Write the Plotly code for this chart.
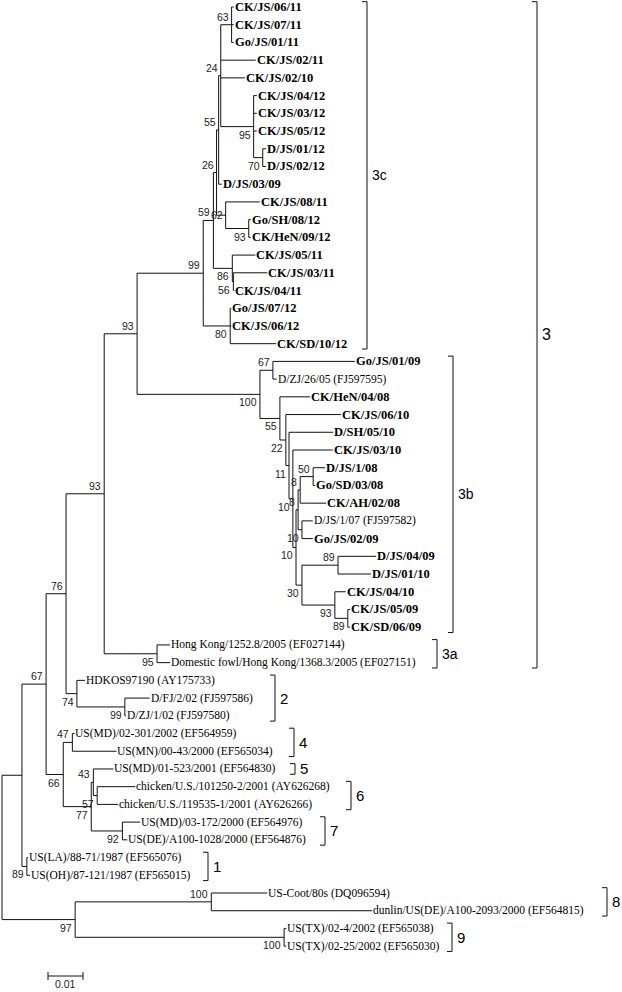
import plotly.graph_objects as go

# ---------------- DATA: tree (Newick; branch lengths = substitutions/site, internal labels = bootstrap) -------------
c63 = "('CK/JS/06/11':0.0006,'CK/JS/07/11':0.0006,'Go/JS/01/11':0.0006)63"
c70 = "('D/JS/01/12':0.0009,'D/JS/02/12':0.0009)70"
c95 = f"('CK/JS/04/12':0.0009,'CK/JS/03/12':0.0009,'CK/JS/05/12':0.0009,{c70}:0.0026)95"
c24 = f"({c63}:0.0031,'CK/JS/02/11':0.0100,'CK/JS/02/10':0.0069,{c95}:0.0094)24"
c55 = f"({c24}:0.0006,'D/JS/03/09':0.0009)55"
c93 = "('Go/SH/08/12':0.0006,'CK/HeN/09/12':0.0006)93"
c62 = f"('CK/JS/08/11':0.0097,{c93}:0.0066)62"
c26 = f"({c55}:0.0006,{c62}:0.0026)26"
c56 = "('CK/JS/03/11':0.0097,'CK/JS/04/11':0.0003)56"
c86 = f"('CK/JS/05/11':0.0066,{c56}:0.0003)86"
c59 = f"({c26}:0.0009,{c86}:0.0054)59"
c80 = "('Go/JS/07/12':0.0003,'CK/JS/06/12':0.0003,'CK/SD/10/12':0.0131)80"
c3c = f"({c59}:0.0029,{c80}:0.0077)99"

c50 = "('D/JS/1/08':0.0034,'Go/SD/03/08':0.0006)50"
c8a = f"({c50}:0.0037,'CK/AH/02/08':0.0074)8"
c10x = "('D/JS/1/07 (FJ597582)':0.0031,'Go/JS/02/09':0.0031)10"
c8b = f"({c8a}:0.0006,{c10x}:0.0011)8"
c89a = "('D/JS/04/09':0.0109,'D/JS/01/10':0.0094)89"
c89b = "('CK/JS/05/09':0.0006,'CK/SD/06/09':0.0006)89"
c93b = f"('CK/JS/04/10':0.0031,{c89b}:0.0037)93"
c30 = f"({c89a}:0.0103,{c93b}:0.0094)30"
c10c = f"({c8b}:0.0006,{c30}:0.0017)10"
c10d = f"('CK/JS/03/10':0.0114,{c10c}:0.0009)10"
c11 = f"('D/SH/05/10':0.0126,{c10d}:0.0011)11"
c22 = f"('CK/JS/06/10':0.0157,{c11}:0.0009)22"
c55b = f"('CK/HeN/04/08':0.0086,{c22}:0.0017)55"
c67b = "('Go/JS/01/09':0.0234,'D/ZJ/26/05 (FJ597595)':0.0011)67"
c3b = f"({c67b}:0.0037,{c55b}:0.0057)100"

cA = f"({c3c}:0.0189,{c3b}:0.0351)93"
c3a = "('Hong Kong/1252.8/2005 (EF027144)':0.0037,'Domestic fowl/Hong Kong/1368.3/2005 (EF027151)':0.0037)95"
cB = f"({cA}:0.0094,{c3a}:0.0151)93"
c99b = "('D/FJ/2/02 (FJ597586)':0.0071,'D/ZJ/1/02 (FJ597580)':0.0003)99"
c2 = f"('HDKOS97190 (AY175733)':0.0023,{c99b}:0.0137)74"
c76 = f"({cB}:0.0109,{c2}:0.0031)76"
c4 = "('US(MD)/02-301/2002 (EF564959)':0.0006,'US(MN)/00-43/2000 (EF565034)':0.0126)47"
c6 = "('chicken/U.S./101250-2/2001 (AY626268)':0.0109,'chicken/U.S./119535-1/2001 (AY626266)':0.0060)57"
c43 = f"('US(MD)/01-523/2001 (EF564830)':0.0057,{c6}:0.0011)43"
c7 = "('US(MD)/03-172/2000 (EF564976)':0.0051,'US(DE)/A100-1028/2000 (EF564876)':0.0014)92"
c77 = f"({c43}:0.0006,{c7}:0.0089)77"
c66 = f"({c4}:0.0026,{c77}:0.0080)66"
c67 = f"({c76}:0.0057,{c66}:0.0049)67"
c1 = "('US(LA)/88-71/1987 (EF565076)':0.0003,'US(OH)/87-121/1987 (EF565015)':0.0009)89"
cX = f"({c67}:0.0069,{c1}:0.0014)"
c8 = "('US-Coot/80s (DQ096594)':0.0160,'dunlin/US(DE)/A100-2093/2000 (EF564815)':0.0460)100"
c9 = "('US(TX)/02-4/2002 (EF565038)':0.0006,'US(TX)/02-25/2002 (EF565030)':0.0006)100"
c97 = f"({c8}:0.0389,{c9}:0.0597)97"
NEWICK = f"({cX}:0.0057,{c97}:0.0209);"

# genotype / subgenotype brackets: (label, first leaf, last leaf)
GROUP_NAMES = ["3c", "3b", "3a", "3", "2", "4", "5", "6", "7", "1", "8", "9"]
GROUP_FIRST = [0, 20, 36, 0, 38, 41, 43, 44, 46, 48, 50, 52]
GROUP_LAST = [19, 35, 37, 37, 40, 42, 43, 45, 47, 49, 51, 53]
SCALE_BAR_VALUE = 0.01

# ---------------- STYLE / LAYOUT ----------------
W, H = 622, 992
PX_PER_UNIT = 3500.0
X0_PX = 2.0
ROW_PX = 17.72
Y0_PX = 7.0
GROUP_X_PX = [367, 453, 437, 537, 275, 294, 295, 351, 325, 208, 607, 452]
GROUP_FONT = [14, 14, 14, 16, 15, 15, 15, 15, 15, 15, 15, 15]
SCALE_X_PX = 48
SCALE_Y_PX = 976
BOOT_MIDDLE = {"62"}   # bootstrap labels drawn level with their branch


def parse_newick(s):
    pos = 0

    def node():
        nonlocal pos
        n = {"children": [], "name": None, "label": None, "bl": 0.0}
        if s[pos] == '(':
            pos += 1
            while True:
                n["children"].append(node())
                if s[pos] == ',':
                    pos += 1
                    continue
                if s[pos] == ')':
                    pos += 1
                    break
            start = pos
            while pos < len(s) and s[pos] not in ':,);':
                pos += 1
            lab = s[start:pos].strip()
            n["label"] = lab if lab else None
        else:
            if s[pos] == "'":
                end = s.index("'", pos + 1)
                n["name"] = s[pos + 1:end]
                pos = end + 1
            else:
                start = pos
                while s[pos] not in ':,);':
                    pos += 1
                n["name"] = s[start:pos]
        if pos < len(s) and s[pos] == ':':
            pos += 1
            start = pos
            while s[pos] not in ',);':
                pos += 1
            n["bl"] = float(s[start:pos])
        return n

    return node()


tree = parse_newick(NEWICK)
leaves = []


def layout(n, x):
    n["x"] = x
    if not n["children"]:
        n["y"] = len(leaves)
        leaves.append(n)
    else:
        for c in n["children"]:
            layout(c, x + c["bl"])
        n["y"] = (n["children"][0]["y"] + n["children"][-1]["y"]) / 2.0


layout(tree, 0.0)

lx, ly = [], []
boots = []


def collect(n):
    if not n["children"]:
        return
    ch = n["children"]
    lx.extend([n["x"], n["x"], None])
    ly.extend([ch[0]["y"], ch[-1]["y"], None])
    for i, c in enumerate(ch):
        lx.extend([n["x"], c["x"], None])
        ly.extend([c["y"], c["y"], None])
        if c["label"]:
            boots.append((c, i == 0))
        collect(c)


collect(tree)


def px2u(px):
    return (px - X0_PX) / PX_PER_UNIT


def py2r(py):
    return (py - Y0_PX) / ROW_PX


fig = go.Figure()
fig.add_trace(go.Scatter(x=lx, y=ly, mode="lines",
                         line=dict(color="#111111", width=1),
                         hoverinfo="skip", showlegend=False))

ann = []
for lf in leaves:
    name = lf["name"]
    bold = "(" not in name
    ann.append(dict(x=lf["x"], y=lf["y"], xref="x", yref="y",
                    text=f"<b>{name}</b>" if bold else name,
                    xanchor="left", yanchor="middle", xshift=-1, showarrow=False,
                    font=dict(family="Liberation Serif, Times New Roman, serif",
                              size=12.5 if bold else 11.5, color="#000")))

for n, first in boots:
    if n["label"] in BOOT_MIDDLE:
        ya = "middle"
    else:
        ya = "bottom" if first else "top"
    ann.append(dict(x=n["x"], y=n["y"], xref="x", yref="y", text=n["label"],
                    xanchor="right", yanchor=ya,
                    xshift=-1, yshift=0, showarrow=False,
                    font=dict(family="Liberation Sans, Arial, sans-serif", size=10.5, color="#222")))

shapes = []
tick = 5
for name, a, b, xpx, fs in zip(GROUP_NAMES, GROUP_FIRST, GROUP_LAST, GROUP_X_PX, GROUP_FONT):
    y_top = a - 0.3
    y_bot = b + 0.3
    xb = px2u(xpx)
    xt = px2u(xpx - tick)
    for (x0, y0, x1, y1) in [(xb, y_top, xb, y_bot), (xt, y_top, xb, y_top), (xt, y_bot, xb, y_bot)]:
        shapes.append(dict(type="line", xref="x", yref="y", x0=x0, y0=y0, x1=x1, y1=y1,
                           line=dict(color="#111111", width=1)))
    ann.append(dict(x=xb, y=(a + b) / 2.0, xref="x", yref="y", text=name,
                    xanchor="left", yanchor="middle", xshift=3, showarrow=False,
                    font=dict(family="Liberation Sans, Arial, sans-serif", size=fs, color="#000")))

# scale bar
sx0 = px2u(SCALE_X_PX)
sx1 = sx0 + SCALE_BAR_VALUE
sy = py2r(SCALE_Y_PX)
dt = 4 / ROW_PX
for (x0, y0, x1, y1) in [(sx0, sy, sx1, sy), (sx0, sy - dt, sx0, sy + dt), (sx1, sy - dt, sx1, sy + dt)]:
    shapes.append(dict(type="line", xref="x", yref="y", x0=x0, y0=y0, x1=x1, y1=y1,
                       line=dict(color="#111111", width=1)))
ann.append(dict(x=(sx0 + sx1) / 2, y=py2r(984), xref="x", yref="y", text=f"{SCALE_BAR_VALUE}",
                xanchor="center", yanchor="middle", showarrow=False,
                font=dict(family="Liberation Sans, Arial, sans-serif", size=10.5, color="#222")))

fig.update_layout(
    width=W, height=H, margin=dict(l=0, r=0, t=0, b=0),
    paper_bgcolor="white", plot_bgcolor="white", showlegend=False,
    xaxis=dict(visible=False, range=[px2u(0), px2u(W)], fixedrange=True),
    yaxis=dict(visible=False, range=[py2r(H), py2r(0)], fixedrange=True),
    annotations=ann, shapes=shapes,
)
fig.write_html("out.html", config={"displayModeBar": False, "staticPlot": True},
               post_script="document.body.style.margin='0';document.body.style.overflow='hidden';")
